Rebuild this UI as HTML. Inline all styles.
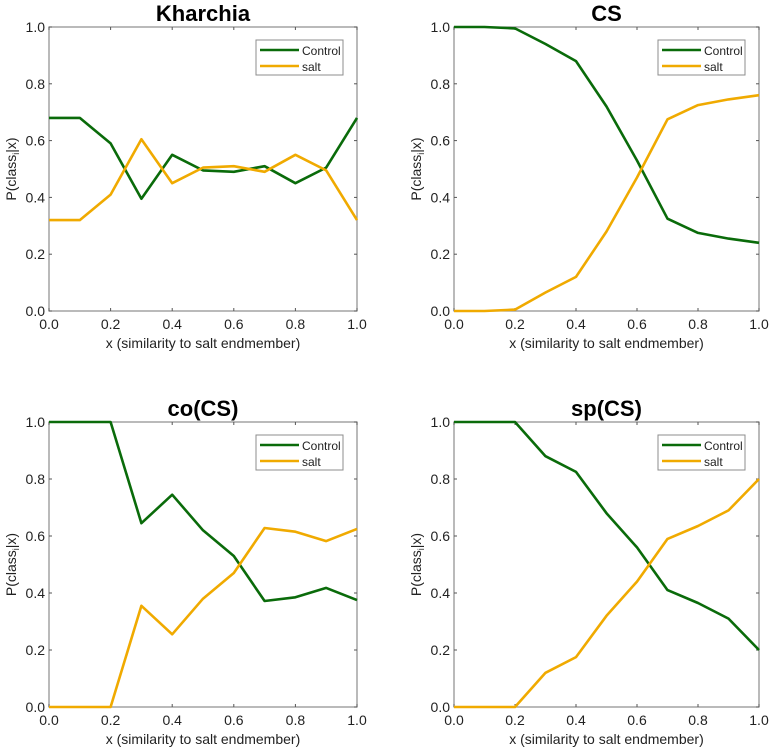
<!DOCTYPE html>
<html><head><meta charset="utf-8"><style>
body{margin:0;background:#fff;}
svg{display:block;font-family:"Liberation Sans",Arial,sans-serif;}
</style></head><body>
<svg id="fig" width="772" height="751" viewBox="0 0 772 751" xmlns="http://www.w3.org/2000/svg"></svg>
<script>
const xVals=[0,0.1,0.2,0.3,0.4,0.5,0.6,0.7,0.8,0.9,1.0];
const xTicks=["0.0","0.2","0.4","0.6","0.8","1.0"];
const yTicks=["0.0","0.2","0.4","0.6","0.8","1.0"];
const titles=["Kharchia","CS","co(CS)","sp(CS)"];
const kharchiaControl=[0.68,0.68,0.59,0.395,0.55,0.495,0.49,0.51,0.45,0.505,0.68];
const kharchiaSalt=[0.32,0.32,0.41,0.605,0.45,0.505,0.51,0.49,0.55,0.495,0.32];
const csControl=[1,1,0.995,0.94,0.88,0.72,0.53,0.325,0.275,0.255,0.24];
const csSalt=[0,0,0.005,0.065,0.12,0.28,0.47,0.675,0.725,0.745,0.76];
const coControl=[1,1,1,0.645,0.745,0.62,0.53,0.372,0.385,0.418,0.375];
const coSalt=[0,0,0,0.355,0.255,0.38,0.47,0.628,0.615,0.582,0.625];
const spControl=[1,1,1,0.88,0.825,0.68,0.56,0.41,0.365,0.31,0.2];
const spSalt=[0,0,0,0.12,0.175,0.32,0.44,0.59,0.635,0.69,0.8];
const controls=[kharchiaControl,csControl,coControl,spControl];
const salts=[kharchiaSalt,csSalt,coSalt,spSalt];
const panels=[{l:49,r:357,t:27,b:311},{l:454,r:759,t:27,b:311},{l:49,r:357,t:422,b:707},{l:454,r:759,t:422,b:707}];
const NS="http://www.w3.org/2000/svg";
const svg=document.getElementById('fig');
function mk(tag,attrs,parent,text){const e=document.createElementNS(NS,tag);for(const k in attrs)e.setAttribute(k,attrs[k]);if(text!==undefined)e.textContent=text;(parent||svg).appendChild(e);return e;}
panels.forEach((p,i)=>{
  const g=mk('g',{});
  
  
  const sx=v=>p.l+v*(p.r-p.l), sy=v=>p.b-v*(p.b-p.t);
  const frame=mk('rect',{x:p.l,y:p.t,width:p.r-p.l,height:p.b-p.t,fill:'none',stroke:'#8c8c8c','stroke-width':1.2},g);
  
  
  xTicks.forEach(t=>{const v=parseFloat(t);const x=sx(v);
    mk('line',{x1:x,x2:x,y1:p.b,y2:p.b-3,stroke:'#555'},g);mk('line',{x1:x,x2:x,y1:p.t,y2:p.t+3,stroke:'#555'},g);
    const tx=mk('text',{x:x,y:p.b+18,'font-size':14,'text-anchor':'middle',fill:'#222'},g,t);
    
    });
  yTicks.forEach(t=>{const v=parseFloat(t);const y=sy(v);
    mk('line',{x1:p.l,x2:p.l+3,y1:y,y2:y,stroke:'#555'},g);mk('line',{x1:p.r,x2:p.r-3,y1:y,y2:y,stroke:'#555'},g);
    const ty=mk('text',{x:p.l-4,y:y+5,'font-size':14,'text-anchor':'end',fill:'#222'},g,t);
    
    });
  const title=mk('text',{x:(p.l+p.r)/2,y:p.t-6,'font-size':22,'font-weight':'bold','text-anchor':'middle',fill:'#000'},g,titles[i]);
  
  
  const xl=mk('text',{x:(p.l+p.r)/2,y:p.b+37,'font-size':14,'text-anchor':'middle',fill:'#222'},g,'x (similarity to salt endmember)');
  
  
  const cy=(p.t+p.b)/2;
  const yl=mk('text',{x:0,y:0,'font-size':14,'text-anchor':'middle',fill:'#222',transform:`translate(${p.l-33},${cy}) rotate(-90)`},g);
  
  
  mk('tspan',{},yl,'P(class');mk('tspan',{'font-size':9,dy:3},yl,'i');mk('tspan',{dy:-3},yl,'|x)');
  const series=[[controls[i],'#0a6b0a','control-line'],[salts[i],'#f0aa00','salt-line']];
  series.forEach(s=>{
    const pts=xVals.map((x,j)=>sx(x).toFixed(1)+','+sy(s[0][j]).toFixed(1)).join(' ');
    const pl=mk('polyline',{points:pts,fill:'none',stroke:s[1],'stroke-width':2.6,'stroke-linejoin':'round'},g);
    
    
  });
  const lx=p.r-101,ly=p.t+13;
  const lg=mk('g',{},g);
  
  
  mk('rect',{x:lx,y:ly,width:87,height:35,fill:'#fff',stroke:'#8c8c8c'},lg);
  mk('line',{x1:lx+4,x2:lx+43,y1:ly+10,y2:ly+10,stroke:'#0a6b0a','stroke-width':2.6},lg);
  mk('line',{x1:lx+4,x2:lx+43,y1:ly+26,y2:ly+26,stroke:'#f0aa00','stroke-width':2.6},lg);
  const e1=mk('text',{x:lx+46,y:ly+15,'font-size':12,fill:'#222'},lg,'Control');
  
  
  const e2=mk('text',{x:lx+46,y:ly+31,'font-size':12,fill:'#222'},lg,'salt');
  
  
});
</script>
</body></html>
